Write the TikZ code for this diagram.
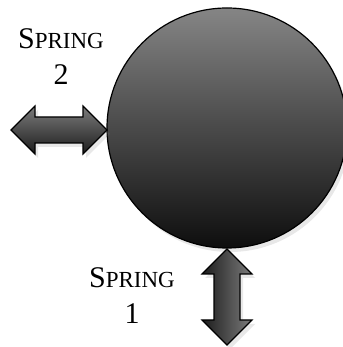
\documentclass[tikz,border=0pt]{standalone}
\usepackage{fontspec}
\setmainfont{Liberation Serif}
\usetikzlibrary{shadows}
\definecolor{masstop}{HTML}{858585}
\definecolor{massbot}{HTML}{0E0E0E}
\definecolor{arrlight}{HTML}{7C7C7C}
\definecolor{arrdark}{HTML}{1C1C1C}
\newcommand{\scname}{S{\fontsize{23}{36}\selectfont PRING}}
\begin{document}
\begin{tikzpicture}[x=1pt,y=1pt,
  softshadow/.style={drop shadow={opacity=0.18, shadow xshift=3pt, shadow yshift=-4pt}},
  mass/.style={draw=black, line width=1.2pt, top color=masstop, bottom color=massbot, softshadow},
  harrow/.style={draw=black, line width=1.1pt, line join=miter, top color=arrlight, bottom color=arrdark, softshadow},
  varrow/.style={draw=black, line width=1.1pt, line join=miter, left color=arrdark, right color=arrlight, softshadow},
  lbl/.style={align=center, inner sep=0pt, font=\fontsize{30}{36}\selectfont}]
\useasboundingbox (0,0) rectangle (342,347);
% mass
\path[mass] (227,219) circle[radius=120];
% spring 2 (horizontal double arrow)
\path[harrow] (11,217) -- (35,241) -- (35,230) -- (83,230) -- (83,241) -- (107,217)
  -- (83,193) -- (83,204) -- (35,204) -- (35,193) -- cycle;
% spring 1 (vertical double arrow)
\path[varrow] (227,98) -- (252,73) -- (240,73) -- (240,27) -- (252,27) -- (227,2)
  -- (202,27) -- (214,27) -- (214,73) -- (202,73) -- cycle;
% labels
\node[lbl] (s2) at (61,290) {\scname\\2};
\node[lbl] (s1) at (132,51) {\scname\\1};
\end{tikzpicture}
\end{document}
